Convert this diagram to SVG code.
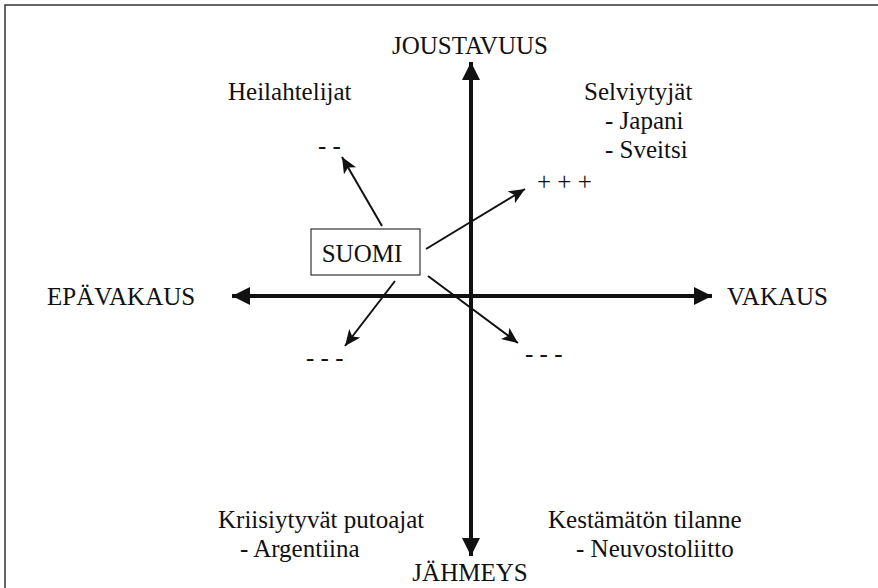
<svg xmlns="http://www.w3.org/2000/svg" width="878" height="588" viewBox="0 0 878 588">
<style>
text{font-family:"Liberation Serif","Times New Roman",Times,Tinos,"Noto Serif","DejaVu Serif",serif;font-size:25px;fill:#111}
.ax{stroke:#111;stroke-width:4;fill:none}
.ar{stroke:#111;stroke-width:2;fill:none}
.frame{stroke:#333;stroke-width:1.5;fill:none}
</style>
<defs>
<marker id="big" markerUnits="userSpaceOnUse" markerWidth="20" markerHeight="20" refX="18" refY="9" orient="auto">
<path d="M0,0 L18,9 L0,18 Z" fill="#111"/>
</marker>
<marker id="small" markerUnits="userSpaceOnUse" markerWidth="18" markerHeight="16" refX="16" refY="7" orient="auto">
<path d="M0,0 L16,7 L0,14 L4,7 Z" fill="#111"/>
</marker>
</defs>
<path class="frame" d="M5,588 L5,5 L878,5"/>
<g id="connectors">
<line class="ax" x1="471" y1="296" x2="471" y2="62" marker-end="url(#big)"/>
<line class="ax" x1="471" y1="296" x2="471" y2="556" marker-end="url(#big)"/>
<line class="ax" x1="471" y1="296" x2="232" y2="296" marker-end="url(#big)"/>
<line class="ax" x1="471" y1="296" x2="712" y2="296" marker-end="url(#big)"/>
<line class="ar" x1="382" y1="226" x2="342" y2="157" marker-end="url(#small)"/>
<line class="ar" x1="426" y1="249" x2="525" y2="189" marker-end="url(#small)"/>
<line class="ar" x1="395" y1="281" x2="345" y2="346" marker-end="url(#small)"/>
<line class="ar" x1="428" y1="276" x2="518" y2="343" marker-end="url(#small)"/>
</g>
<g id="suomi">
<rect x="311" y="229" width="109" height="46" fill="#fff" stroke="#333" stroke-width="1.2"/>
<text x="362" y="262" text-anchor="middle">SUOMI</text>
</g>
<g id="joustavuus"><text x="470" y="54" text-anchor="middle">JOUSTAVUUS</text></g>
<g id="jahmeys"><text x="470" y="581" text-anchor="middle">JÄHMEYS</text></g>
<g id="epavakaus"><text x="47" y="305">EPÄVAKAUS</text></g>
<g id="vakaus"><text x="727" y="305">VAKAUS</text></g>
<g id="heilahtelijat"><text x="228" y="100">Heilahtelijat</text></g>
<g id="selviytyjat">
<text x="584" y="100">Selviytyjät</text>
<text x="605" y="129">- Japani</text>
<text x="605" y="158">- Sveitsi</text>
</g>
<g id="kriisiytyvat">
<text x="218" y="528">Kriisiytyvät putoajat</text>
<text x="240" y="557">-  Argentiina</text>
</g>
<g id="kestamaton">
<text x="548" y="528">Kestämätön tilanne</text>
<text x="576" y="557">- Neuvostoliitto</text>
</g>
<g id="mm"><text x="318" y="154">- -</text></g>
<g id="ppp"><text x="537" y="190">+ + +</text></g>
<g id="mmm1"><text x="306" y="366">- - -</text></g>
<g id="mmm2"><text x="525" y="362">- - -</text></g>
</svg>
